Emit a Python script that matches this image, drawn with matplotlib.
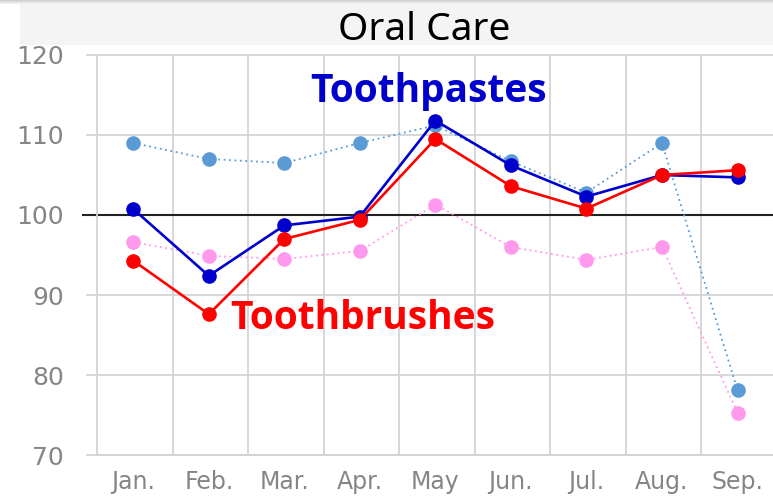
import matplotlib
matplotlib.use("Agg")
import matplotlib.pyplot as plt
from matplotlib.patches import Rectangle

months = ["Jan.", "Feb.", "Mar.", "Apr.", "May", "Jun.", "Jul.", "Aug.", "Sep."]
toothpastes = [100.75, 92.4, 98.7, 99.8, 111.8, 106.2, 102.3, 105.0, 104.7]
toothbrushes = [94.3, 87.6, 97.0, 99.4, 109.5, 103.6, 100.8, 105.0, 105.6]
toothpastes_prev = [109.0, 107.0, 106.5, 109.0, 111.2, 106.7, 102.8, 109.0, 78.1]
toothbrushes_prev = [96.6, 94.9, 94.5, 95.5, 101.3, 96.0, 94.4, 96.0, 75.3]
yticks = [70, 80, 90, 100, 110, 120]

fig = plt.figure(figsize=(7.73, 4.98), dpi=100)
W, H = 773, 498

# title band
fig.patches.append(Rectangle((20 / W, 1 - 45 / H), 1 - 20 / W, 45 / H,
                             transform=fig.transFigure, facecolor="#f4f4f4",
                             edgecolor="none", zorder=0))
for i, c in enumerate(["#cfcfcf", "#dcdcdc", "#e8e8e8", "#f0f0f0"]):
    fig.patches.append(Rectangle((0, 1 - (i + 1) / H), 1, 1 / H, transform=fig.transFigure,
                                 facecolor=c, edgecolor="none", zorder=0))
fig.text(424 / W, 1 - 30 / H, "Oral Care", ha="center", va="center",
         fontsize=28, family="Noto Sans", color="black")

ax = fig.add_axes([97 / W, 1 - 455 / H, 1 - 97 / W, 400 / H])
x = list(range(len(months)))
ax.set_xlim(-0.48, 8.47)
ax.set_ylim(70, 120)

grid_c = "#d4d4d4"
for k in range(1, len(months)):
    ax.axvline(k - 0.48, color=grid_c, lw=1.3, zorder=1)
for v in yticks:
    ax.axhline(v, color=grid_c, lw=1.3, zorder=1, xmin=-0.015, clip_on=False)
ax.axhline(100, color="#222222", lw=1.5, zorder=2, xmin=-0.021, clip_on=False)

for s in ["top", "right"]:
    ax.spines[s].set_visible(False)
for s in ["left", "bottom"]:
    ax.spines[s].set_color(grid_c)
    ax.spines[s].set_linewidth(1.3)

ax.plot(x, toothpastes_prev, color="#5b9bd5", lw=1.3, ls=(0, (1, 2)),
        marker="o", ms=9.5, zorder=3)
ax.plot(x, toothbrushes_prev, color="#ff99ee", lw=1.3, ls=(0, (1, 2)),
        marker="o", ms=9.5, zorder=3)
ax.plot(x, toothpastes, color="#0000cc", lw=1.9, marker="o", ms=9.5, zorder=4)
ax.plot(x, toothbrushes, color="#ff0000", lw=1.9, marker="o", ms=9.5, zorder=5)

ax.set_xticks(x)
ax.set_xticklabels(months, family="DejaVu Sans")
ax.set_yticks(yticks)
ax.set_yticklabels([str(v) for v in yticks], family="DejaVu Sans")
ax.tick_params(axis="x", length=0, pad=11, labelsize=17, labelcolor="#858585")
ax.tick_params(axis="y", length=0, pad=24, labelsize=18, labelcolor="#858585")

ax.text(2.34, 115.4, "Toothpastes", color="#0000cc", fontsize=28, fontweight="bold",
        family="Open Sans", ha="left", va="center", zorder=6)
ax.text(1.28, 87.1, "Toothbrushes", color="#ff0000", fontsize=28, fontweight="bold",
        family="Open Sans", ha="left", va="center", zorder=6)

fig.savefig("out.png", dpi=100)
